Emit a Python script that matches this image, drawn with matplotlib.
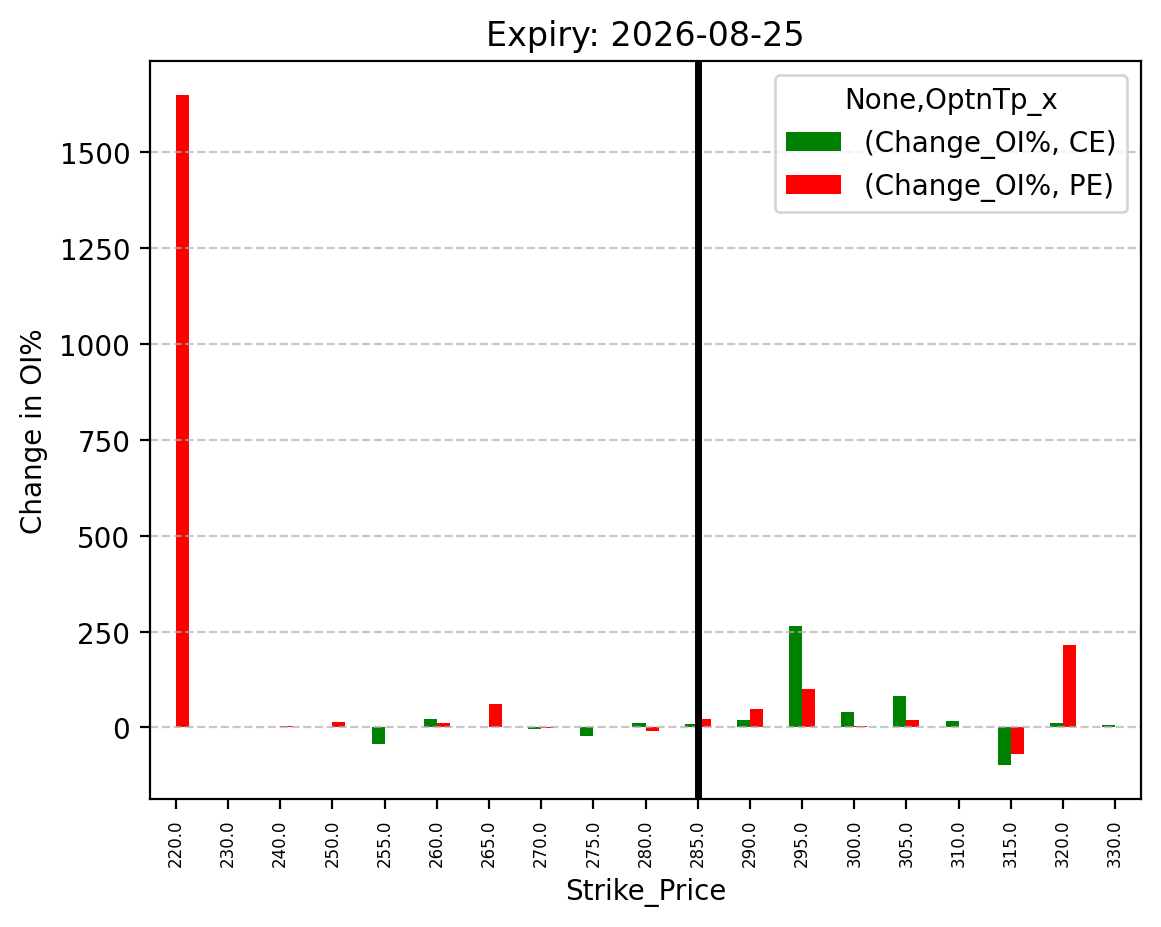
import numpy as np
import pandas as pd
import matplotlib
matplotlib.use("Agg")
import matplotlib.pyplot as plt

# strike prices and change in OI% per option type
strikes = [220.0, 230.0, 240.0, 250.0, 255.0, 260.0, 265.0, 270.0, 275.0, 280.0,
           285.0, 290.0, 295.0, 300.0, 305.0, 310.0, 315.0, 320.0, 330.0]
ce_change = [np.nan, np.nan, np.nan, np.nan, -42, 23, np.nan, -5, -22, 12,
             10, 20, 265, 41, 82, 17, -99, 12, 7]
pe_change = [1650, np.nan, 3, 13, np.nan, 12, 60, -2, np.nan, -9,
             23, 49, 99, 4, 20, np.nan, -69, 215, np.nan]
atm_strike = 285.0

cols = pd.MultiIndex.from_tuples([("Change_OI%", "CE"), ("Change_OI%", "PE")],
                                 names=[None, "OptnTp_x"])
df = pd.DataFrame(np.column_stack([ce_change, pe_change]),
                  index=pd.Index(strikes, name="Strike_Price"), columns=cols)

fig, ax = plt.subplots(figsize=(5.805, 4.64), dpi=200)
fig.subplots_adjust(left=0.129, right=0.983, top=0.933, bottom=0.138)

df.plot(kind="bar", ax=ax, color=["green", "red"])
ax.axvline(strikes.index(atm_strike), color="black", linewidth=2.5)

ax.grid(axis="y", linestyle="--", alpha=0.7)
ax.set_title("Expiry: 2026-08-25")
ax.set_ylabel("Change in OI%")
ax.set_xlabel("Strike_Price")
ax.tick_params(axis="x", labelsize=6, rotation=90)

plt.savefig("out.png", dpi=200)
plt.close()
